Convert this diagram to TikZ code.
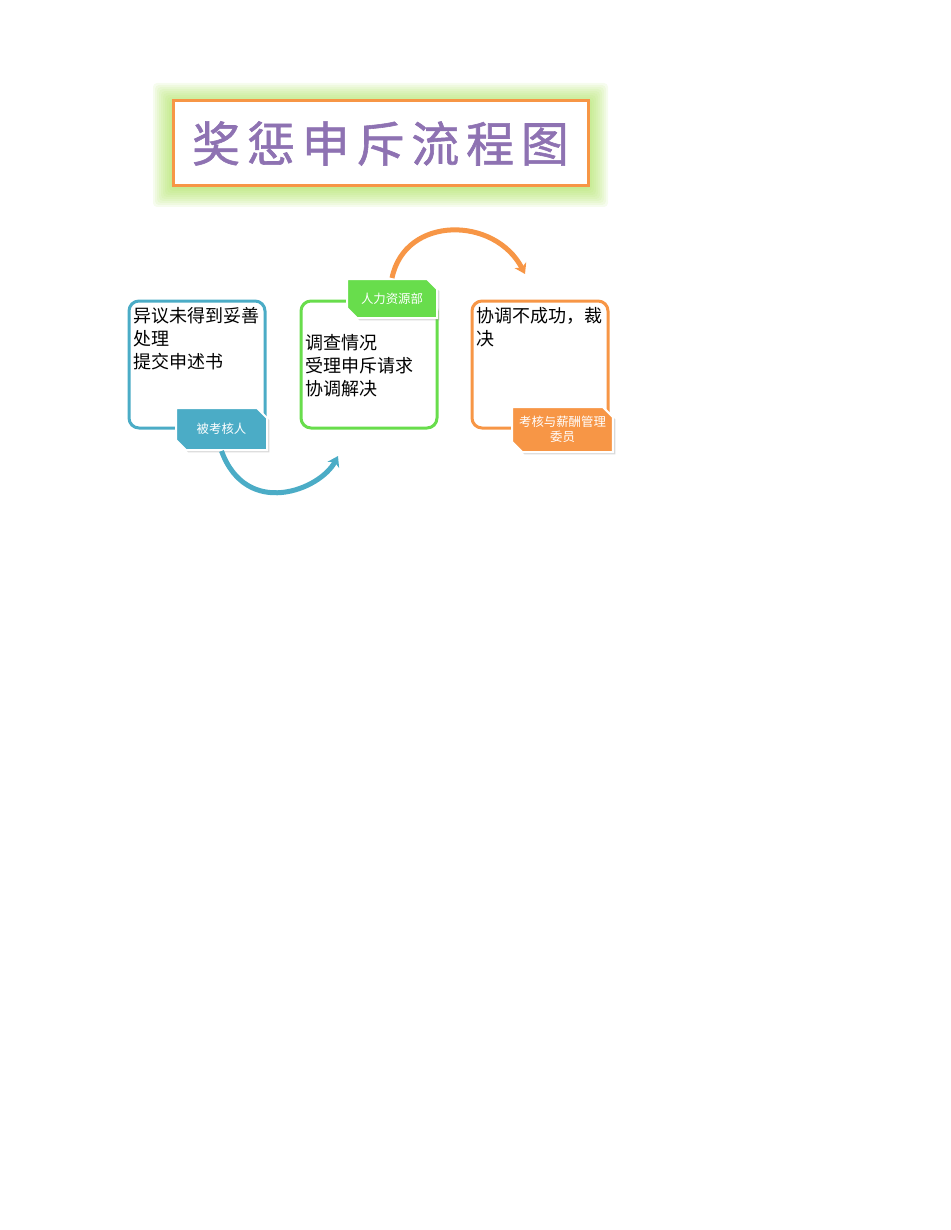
\documentclass[tikz,border=0pt]{standalone}
\usepackage{fontspec}
\setmainfont{Noto Sans CJK SC}
\newfontfamily\titlefont[FakeBold=1.2]{Noto Sans CJK SC}
\usetikzlibrary{positioning,shapes.misc,shadows,arrows.meta}
\definecolor{cblue}{RGB}{75,172,198}
\definecolor{cgreen}{RGB}{104,221,76}
\definecolor{corange}{RGB}{247,150,70}
\definecolor{cpurple}{RGB}{142,114,178}
\definecolor{cglow}{RGB}{170,225,90}
\begin{document}
\begin{tikzpicture}[x=0.5pt, y=-0.5pt, every node/.style={align=left}]
    \tikzstyle{box}=[rectangle, draw, rounded corners=5pt, line width=1.5pt, fill=white, minimum width=68pt, minimum height=63.5pt, inner sep=0pt];
    \tikzstyle{txt}=[inner sep=0pt, anchor=north west, font=\fontsize{9}{11.5}\selectfont];
    \tikzstyle{tag}=[chamfered rectangle, chamfered rectangle corners={north east, south west}, chamfered rectangle xsep=2.5pt, chamfered rectangle ysep=2.5pt, draw=white, line width=1pt, text=white, align=center, inner sep=1pt, font=\fontsize{6.2}{7.5}\selectfont, drop shadow={shadow xshift=1.2pt, shadow yshift=-1.2pt, opacity=0.3}];
    \tikzstyle{arr}=[line width=2.5pt, -{Stealth[length=5pt, width=6.5pt, inset=1.5pt]}];
    \useasboundingbox (0,0) rectangle (950,1230);
    \foreach \i in {0,...,9}
        \fill[cglow, opacity=0.1, rounded corners=2pt] ({153+2*\i},{83+2*\i}) rectangle ({608-2*\i},{207-2*\i});
    \node[draw=corange, line width=1.5pt, fill=white, minimum width=207.5pt, minimum height=42.5pt, align=center] (title) at (380.5,143.5)
        {\raisebox{-1pt}{\titlefont\fontsize{24}{28}\selectfont\color{cpurple}奖\hspace{3.4pt}惩\hspace{3.4pt}申\hspace{3.4pt}斥\hspace{3.4pt}流\hspace{3.4pt}程\hspace{3.4pt}图}};
    \node[box, draw=cblue] (b1) at (197,364.5) {};
    \node[box, draw=cgreen, right=16.5pt of b1] (b2) {};
    \node[box, draw=corange, right=16pt of b2] (b3) {};
    \node[txt, below right=3.5pt and 3pt of b1.north west] (t1text) {异议未得到妥善\\处理\\提交申述书};
    \node[txt, below right=17pt and 3pt of b2.north west] (t2text) {调查情况\\受理申斥请求\\协调解决};
    \node[txt, below right=3.5pt and 3pt of b3.north west] (t3text) {协调不成功，裁\\决};
    \node[tag, fill=cblue, minimum width=45.5pt, minimum height=21pt] (t1) at (221.5,429) {被考核人};
    \node[tag, fill=cgreen, minimum width=45pt, minimum height=19.5pt] (t2) at (392,298.5) {人力资源部};
    \node[tag, fill=corange, minimum width=49.5pt, minimum height=22.5pt] (t3) at (562.5,429.5) {考核与薪酬管理\\委员};
    \coordinate (e1) at (338,456);
    \coordinate (e2) at (525,274);
    \draw[arr, draw=cblue] (t1.south) .. controls +(25,68) and +(-18,34) .. (e1);
    \draw[arr, draw=corange] (t2.north) .. controls +(13,-63) and +(-30,-58) .. (e2);
\end{tikzpicture}
\end{document}
